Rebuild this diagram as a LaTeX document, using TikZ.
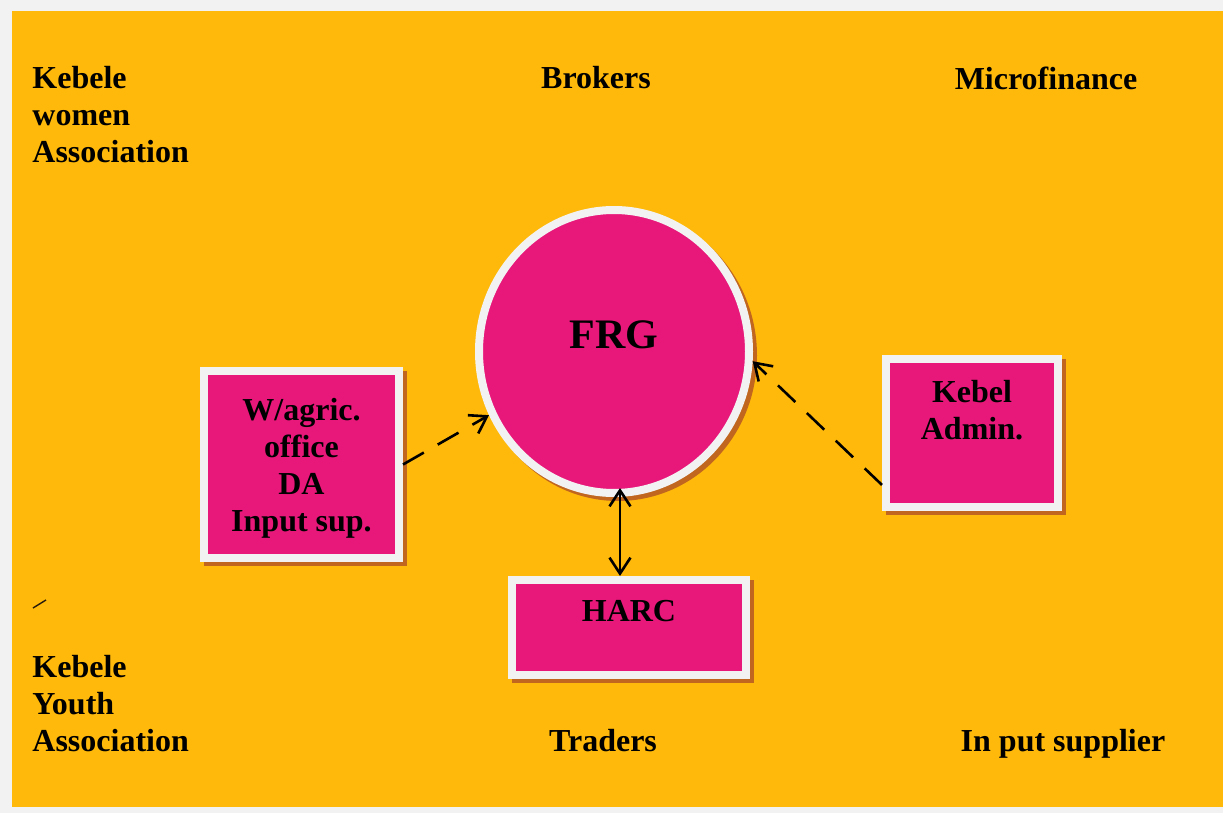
\documentclass[tikz,border=0pt]{standalone}
\usepackage{fontspec}
\setmainfont{Liberation Serif}
\usetikzlibrary{shapes.geometric, arrows.meta, shadows, calc}
\definecolor{bgorange}{RGB}{255,185,10}
\definecolor{frame}{RGB}{242,242,242}
\definecolor{rose}{RGB}{232,23,122}
\definecolor{shade}{RGB}{192,102,30}

\begin{document}
\begin{tikzpicture}[x=0.5pt,y=-0.5pt,>={Straight Barb[length=8pt,width=10.5pt]},
  blk/.style={rectangle,draw=frame,line width=4pt,fill=rose,align=center,inner sep=0pt,font=\fontsize{16}{18.5}\selectfont\bfseries,
    drop shadow={shadow xshift=2pt,shadow yshift=-2pt,opacity=1,fill=shade,draw=shade,line width=4pt}},
  txt/.style={align=left,inner sep=0pt,font=\fontsize{16}{18.5}\selectfont\bfseries},
  dsh/.style={->,line width=1.3pt,dash pattern=on 12pt off 8pt}]
  \fill[frame] (0,0) rectangle (1223,813);
  \fill[bgorange] (12,11) rectangle (1223,807);
  % surrounding actors
  \node[txt,anchor=west](kwa) at (32,115){Kebele\\women\\Association};
  \node[txt](brk) at (596,78){Brokers};
  \node[txt](mfi) at (1046,78){Microfinance};
  \node[txt,anchor=west](kya) at (32,704){Kebele\\Youth\\Association};
  \node[txt](trd) at (603,741){Traders};
  \node[txt](ips) at (1063,744){In put supplier};
  \draw[line width=0.7pt,black!80!brown] (33,608) -- (46,600);
  % core
  \node[blk,ellipse,minimum width=135pt,minimum height=141.5pt,font=\fontsize{21}{25}\selectfont\bfseries,text height=15pt,text depth=17.5pt](frg) at (614,351.5){FRG};
  \node[blk,minimum width=97.5pt,minimum height=93.5pt,text depth=0pt](wag) at (301.5,464.5){W/agric.\\office\\DA\\Input sup.};
  \node[blk,minimum width=86pt,minimum height=74pt,text height=12pt,text depth=6pt](keb) at (972,433){Kebel\\Admin.};
  \node[blk,minimum width=117pt,minimum height=47.5pt,text height=12pt,text depth=18.5pt](harc) at (629,627.5){HARC};
  \draw[dsh] (wag.east) -- (frg.207);
  \draw[dsh] (keb.210) -- (frg.356);
  \draw[<->,line width=1.3pt] ([xshift=3pt,yshift=4.5pt]frg.south) -- ([xshift=3pt]frg.south |- harc.north);
\end{tikzpicture}
\end{document}
